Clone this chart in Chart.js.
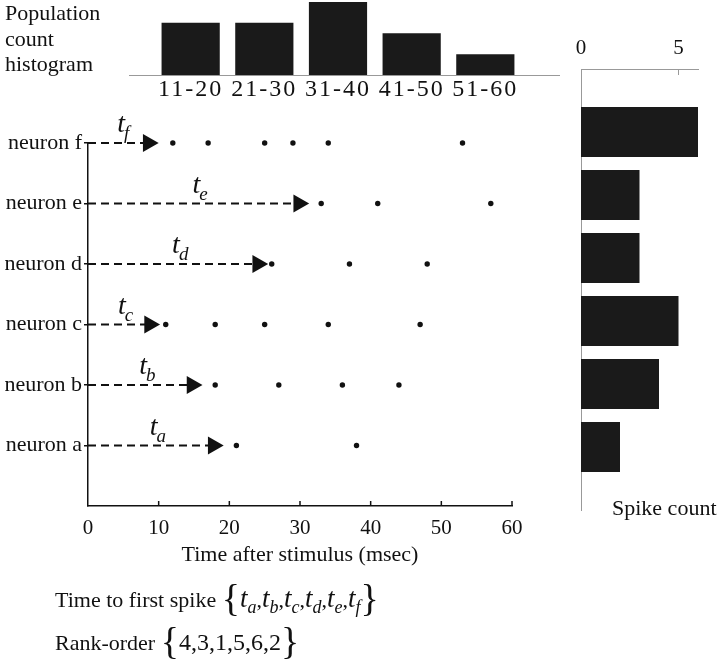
<!DOCTYPE html>
<html>
<head>
<meta charset="utf-8">
<script src="https://cdn.jsdelivr.net/npm/chart.js@4.4.1/dist/chart.umd.min.js"></script>
<style>
  body { margin: 0; background: #fff; }
  #page { position: relative; width: 720px; height: 659px; overflow: hidden; font-family: "Liberation Serif", serif; color: #111; }
  canvas { position: absolute; }
  .txt { position: absolute; font-size: 22px; line-height: 25.5px; white-space: nowrap; }
  .br { font-size: 38px; vertical-align: -4px; }
  .t { font-style: italic; font-size: 27px; }
  .sub { font-style: italic; font-size: 18px; position: relative; top: 6px; }
</style>
</head>
<body>
<div id="page">
  <canvas id="popHist" width="460" height="110" style="left:100px;top:0px"></canvas>
  <canvas id="raster" width="560" height="480" style="left:0px;top:100px"></canvas>
  <canvas id="countHist" width="160" height="530" style="left:560px;top:0px"></canvas>

  <div class="txt" style="left:5px;top:0px">Population<br>count<br>histogram</div>
  <div class="txt" style="left:612px;top:495px">Spike count</div>
  <div class="txt" style="left:55px;top:586px">Time to first spike <span class="br">{</span><span class="t">t</span><span class="sub">a</span>,<span class="t">t</span><span class="sub">b</span>,<span class="t">t</span><span class="sub">c</span>,<span class="t">t</span><span class="sub">d</span>,<span class="t">t</span><span class="sub">e</span>,<span class="t">t</span><span class="sub">f</span><span class="br">}</span></div>
  <div class="txt" style="left:55px;top:629px">Rank-order <span class="br">{</span><span style="font-size:24px">4,3,1,5,6,2</span><span class="br">}</span></div>
</div>

<script>
// population histogram (bins of 10 msec)
const binLabels = ["11-20", "21-30", "31-40", "41-50", "51-60"];
const binCounts = [5, 5, 7, 4, 2];

// neurons, bottom to top
const neurons = ["a", "b", "c", "d", "e", "f"];
const spikesA = [21, 38];
const spikesB = [18, 27, 36, 44];
const spikesC = [11, 18, 25, 34, 47];
const spikesD = [26, 37, 48];
const spikesE = [33, 41, 57];
const spikesF = [12, 17, 25, 29, 34, 53];
const spikeTimes = [spikesA, spikesB, spikesC, spikesD, spikesE, spikesF];

// where the dashed arrows end (tip, msec)
const arrowTips = [19.2, 16.2, 10.2, 25.5, 31.3, 10.0];

// spike count per neuron
const spikeCounts = [2, 4, 5, 3, 3, 6];

const timeTicks = [0, 10, 20, 30, 40, 50, 60];
const countTicks = [0, 5];

const SERIF = "'Liberation Serif', serif";
const INK = "#111";
const BAR = "#1a1a1a";
const GREY = "#999";
const HEAD_R = 10.5;

Chart.defaults.font.family = SERIF;
Chart.defaults.color = INK;

const noExtras = { legend: { display: false }, tooltip: { enabled: false } };

// wider letters for the bin labels
const spacedLabels = {
  id: "spacedLabels",
  beforeDraw(chart) { chart.ctx.letterSpacing = "2px"; }
};

// ---- population count histogram ----
new Chart(document.getElementById("popHist"), {
  type: "bar",
  data: {
    datasets: [{
      data: binCounts.map((c, i) => ({ x: i + 1, y: c })),
      backgroundColor: BAR,
      borderWidth: 0,
      barPercentage: 0.79,
      categoryPercentage: 1
    }]
  },
  options: {
    responsive: false,
    animation: false,
    layout: { padding: { left: 29, right: 1, top: 2, bottom: 0 } },
    plugins: noExtras,
    scales: {
      x: {
        type: "linear",
        offset: false,
        min: 0.163,
        max: 6.0,
        afterBuildTicks: (s) => { s.ticks = binLabels.map((_, i) => ({ value: i + 1 })); },
        afterFit: (s) => { s.height = 35; },
        ticks: {
          callback: (v) => binLabels[v - 1],
          font: { size: 24 },
          padding: -8,
          maxRotation: 0,
          autoSkip: false
        },
        grid: { display: false },
        border: { color: GREY, width: 1 }
      },
      y: { display: false, min: 0, max: 7 }
    }
  },
  plugins: [spacedLabels]
});

// ---- raster plot ----
const rasterDecor = {
  id: "rasterDecor",
  afterDraw(chart) {
    const { ctx, scales: { x, y }, chartArea } = chart;
    ctx.save();
    // inward ticks on the time axis
    ctx.strokeStyle = INK;
    ctx.lineWidth = 1.5;
    timeTicks.slice(1).forEach((t) => {
      const px = x.getPixelForValue(t);
      ctx.beginPath();
      ctx.moveTo(px, chartArea.bottom);
      ctx.lineTo(px, chartArea.bottom - 5);
      ctx.stroke();
    });
    // t labels above each arrow
    ctx.fillStyle = INK;
    ctx.textBaseline = "alphabetic";
    neurons.forEach((n, i) => {
      const px = x.getPixelForValue(arrowTips[i] / 2) - 6;
      const py = y.getPixelForValue(i + 1) - 11;
      ctx.font = "italic 28px " + SERIF;
      ctx.fillText("t", px, py);
      const w = ctx.measureText("t").width;
      ctx.font = "italic 19px " + SERIF;
      ctx.fillText(n, px + w - 1, py + 7);
    });
    ctx.restore();
  }
};

const headMs = HEAD_R / (424 / 60); // arrow head radius in msec
const arrowSets = neurons.map((n, i) => ({
  type: "line",
  data: [{ x: 0, y: i + 1 }, { x: arrowTips[i] - headMs, y: i + 1 }],
  borderColor: INK,
  borderWidth: 2,
  borderDash: [8, 5],
  pointRadius: [0, HEAD_R],
  pointStyle: "triangle",
  rotation: 90,
  pointBackgroundColor: INK,
  pointBorderWidth: 0,
  clip: false
}));

new Chart(document.getElementById("raster"), {
  type: "scatter",
  data: {
    datasets: [
      ...arrowSets,
      {
        type: "scatter",
        data: spikeTimes.flatMap((row, i) => row.map((t) => ({ x: t, y: i + 1 }))),
        pointRadius: 2.7,
        pointBackgroundColor: INK,
        pointBorderWidth: 0,
        clip: false
      }
    ]
  },
  options: {
    responsive: false,
    animation: false,
    layout: { padding: { left: 0, right: 48, top: 43, bottom: 0 } },
    plugins: noExtras,
    scales: {
      x: {
        type: "linear",
        min: 0,
        max: 60,
        afterBuildTicks: (s) => { s.ticks = timeTicks.map((v) => ({ value: v })); },
        afterFit: (s) => { s.height = 74; },
        ticks: { font: { size: 21 }, padding: 2, maxRotation: 0 },
        grid: { display: false },
        border: { color: INK, width: 1.5 },
        title: {
          display: true,
          text: "Time after stimulus (msec)",
          font: { size: 22 },
          padding: { top: 0, bottom: 12 }
        }
      },
      y: {
        type: "linear",
        min: 0,
        max: 6,
        afterBuildTicks: (s) => { s.ticks = neurons.map((_, i) => ({ value: i + 1 })); },
        afterFit: (s) => { s.width = 88; },
        ticks: { callback: (v) => "neuron " + neurons[v - 1], font: { size: 22 }, padding: 2 },
        grid: { drawOnChartArea: false, drawTicks: true, tickLength: 4, color: INK, lineWidth: 1.5 },
        border: { color: INK, width: 1.5 }
      }
    }
  },
  plugins: [rasterDecor]
});

// ---- spike count histogram ----
const countDecor = {
  id: "countDecor",
  afterDraw(chart) {
    const { ctx, scales: { x }, chartArea } = chart;
    ctx.save();
    ctx.strokeStyle = GREY;
    ctx.lineWidth = 1;
    countTicks.slice(1).forEach((v) => {
      const px = x.getPixelForValue(v);
      ctx.beginPath();
      ctx.moveTo(px, chartArea.top);
      ctx.lineTo(px, chartArea.top + 6);
      ctx.stroke();
    });
    ctx.restore();
  }
};

new Chart(document.getElementById("countHist"), {
  type: "bar",
  data: {
    datasets: [{
      data: spikeCounts.map((c, i) => ({ x: c, y: i + 1 })),
      backgroundColor: BAR,
      borderWidth: 0,
      barPercentage: 0.79,
      categoryPercentage: 1
    }]
  },
  options: {
    indexAxis: "y",
    responsive: false,
    animation: false,
    layout: { padding: { left: 21, right: 22, top: 0, bottom: 20 } },
    plugins: noExtras,
    scales: {
      x: {
        type: "linear",
        position: "top",
        min: 0,
        max: 6,
        afterBuildTicks: (s) => { s.ticks = countTicks.map((v) => ({ value: v })); },
        afterFit: (s) => { s.height = 69; },
        ticks: { font: { size: 21 }, padding: 0, maxRotation: 0 },
        grid: { display: false },
        border: { color: GREY, width: 1 }
      },
      y: {
        type: "linear",
        offset: false,
        min: 0,
        max: 7,
        afterFit: (s) => { s.width = 0; },
        ticks: { display: false },
        grid: { display: false },
        border: { color: GREY, width: 1 }
      }
    }
  },
  plugins: [countDecor]
});
</script>
</body>
</html>
